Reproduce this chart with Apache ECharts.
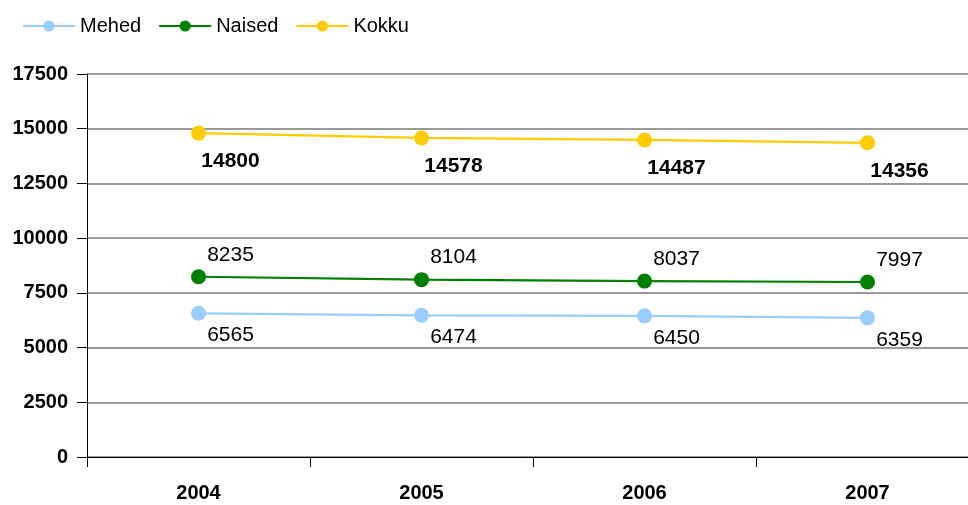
<!DOCTYPE html>
<html>
<head>
<meta charset="utf-8">
<script src="https://cdn.jsdelivr.net/npm/echarts@6/dist/echarts.min.js"></script>
<style>html,body{margin:0;padding:0;background:#fff}#c{width:968px;height:505px}</style>
</head>
<body>
<div id="c"></div>
<script>
const years = ['2004', '2005', '2006', '2007'];
const mehed = [6565, 6474, 6450, 6359];
const naised = [8235, 8104, 8037, 7997];
const kokku = [14800, 14578, 14487, 14356];
const yTicks = { min: 0, max: 17500, interval: 2500 };

const FONT = '"Liberation Sans", Arial, sans-serif';
const chart = echarts.init(document.getElementById('c'), null, { renderer: 'canvas' });

function lineSeries(name, data, color, labelPos, offset, bold) {
  return {
    name: name,
    type: 'line',
    data: data,
    symbol: 'circle',
    symbolSize: 15,
    lineStyle: { color: color, width: 2.2 },
    itemStyle: { color: color },
    emphasis: { disabled: true },
    label: {
      show: true,
      position: labelPos,
      distance: 0,
      offset: offset,
      color: '#000',
      fontFamily: FONT,
      fontSize: 21,
      fontWeight: bold ? 'bold' : 'normal'
    }
  };
}

chart.setOption({
  animation: false,
  backgroundColor: '#fff',
  legend: {
    left: 17,
    top: 11,
    itemWidth: 52,
    itemHeight: 14,
    itemGap: 17,
    textStyle: { fontFamily: FONT, fontSize: 20, color: '#000' },
    data: ['Mehed', 'Naised', 'Kokku']
  },
  grid: { left: 87, width: 892, top: 74, bottom: 48, containLabel: false, outerBoundsMode: 'none' },
  xAxis: {
    type: 'category',
    data: years,
    boundaryGap: true,
    axisLine: { show: true, lineStyle: { color: '#000', width: 1 } },
    axisTick: { show: true, length: 10, lineStyle: { color: '#000' } },
    axisLabel: { margin: 26, fontFamily: FONT, fontSize: 20, fontWeight: 'bold', color: '#000' }
  },
  yAxis: {
    type: 'value',
    min: yTicks.min,
    max: yTicks.max,
    interval: yTicks.interval,
    axisLine: { show: true, lineStyle: { color: '#000', width: 1 } },
    axisTick: { show: true, length: 10, lineStyle: { color: '#000' } },
    splitLine: { show: true, lineStyle: { color: '#777', width: 1.5 } },
    axisLabel: {
      margin: 19,
      fontFamily: FONT,
      fontSize: 20,
      fontWeight: 'bold',
      color: '#000',
      formatter: function (v) { return String(v); }
    }
  },
  series: [
    lineSeries('Mehed', mehed, '#99CCFF', 'bottom', [32, 4], false),
    lineSeries('Naised', naised, '#008000', 'top', [32, -4], false),
    lineSeries('Kokku', kokku, '#FFCC00', 'bottom', [32, 10], true)
  ]
});
</script>
</body>
</html>
